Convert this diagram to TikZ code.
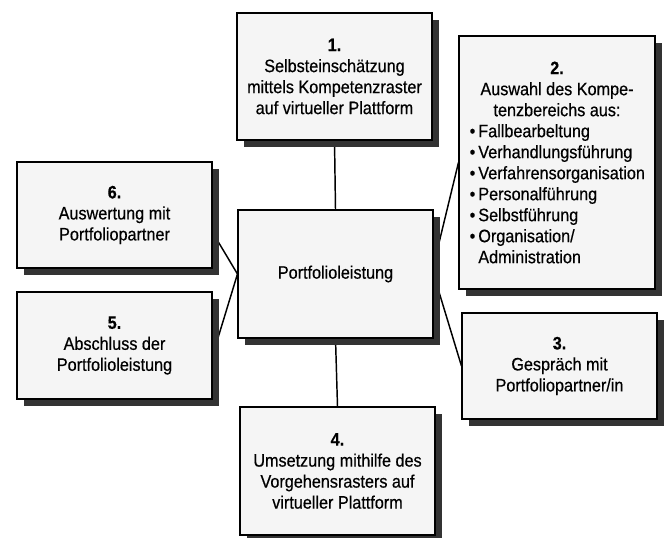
\documentclass[tikz,border=0pt]{standalone}
\usepackage{fontspec}
\setmainfont{Liberation Sans}[FakeStretch=0.9,FakeBold=0.5]
\usetikzlibrary{shadows,backgrounds}

\newcommand{\punkt}[1]{\par\noindent\makebox[6.5pt][l]{•}#1}

\begin{document}
\begin{tikzpicture}[x=0.75pt,y=-0.75pt,
  kasten/.style={draw,line width=0.8pt,fill=black!4,minimum width=146.25pt,
    inner sep=0pt,align=center,font=\fontsize{13.5}{15.75}\selectfont,
    drop shadow={shadow xshift=5.5pt,shadow yshift=-5.5pt,fill=black!80,opacity=1}},
  linie/.style={line width=1.1pt}]
  \useasboundingbox (0,0) rectangle (670,538);

  \node[kasten,minimum height=96pt] (portfolio) at (335.5,274) {Portfolioleistung};
  \node[kasten,minimum height=95.25pt] (selbst) at (334.5,76.5)
    {\textbf{1.}\\Selbsteinschätzung\\mittels Kompetenzraster\\auf virtueller Plattform};
  \node[kasten,minimum width=147pt,minimum height=189.75pt] (auswahl) at (557,162.5)
    {\textbf{2.}\\Auswahl des Kompe-\\tenzbereichs aus:\\
     \begin{minipage}[t]{131pt}\raggedright
       \punkt{Fallbearbeltung}
       \punkt{Verhandlungsführung}
       \punkt{Verfahrensorganisation}
       \punkt{Personalführung}
       \punkt{Selbstführung}
       \punkt{Organisation/}
       \par\noindent\hspace*{6.5pt}Administration
     \end{minipage}};
  \node[kasten,minimum height=79.5pt] (gespraech) at (559.5,366)
    {\textbf{3.}\\Gespräch mit\\Portfoliopartner/in};
  \node[kasten,minimum height=96pt] (umsetzung) at (337.5,471)
    {\textbf{4.}\\Umsetzung mithilfe des\\Vorgehensrasters auf\\virtueller Plattform};
  \node[kasten,minimum height=80.25pt] (abschluss) at (114.5,345.5)
    {\textbf{5.}\\Abschluss der\\Portfolioleistung};
  \node[kasten,minimum height=79.5pt] (auswertung) at (114.5,215)
    {\textbf{6.}\\Auswertung mit\\Portfoliopartner};

  \begin{scope}[on background layer]
    \draw[linie] (portfolio.north) -- (selbst.south);
    \draw[linie] (portfolio.5) -- (auswahl.west);
    \draw[linie] (portfolio.east) -- (gespraech.west);
    \draw[linie] (portfolio.south) -- (umsetzung.north);
    \draw[linie] (portfolio.west) -- (abschluss.-6);
    \draw[linie] (portfolio.west) -- (auswertung.-10);
  \end{scope}
\end{tikzpicture}
\end{document}
